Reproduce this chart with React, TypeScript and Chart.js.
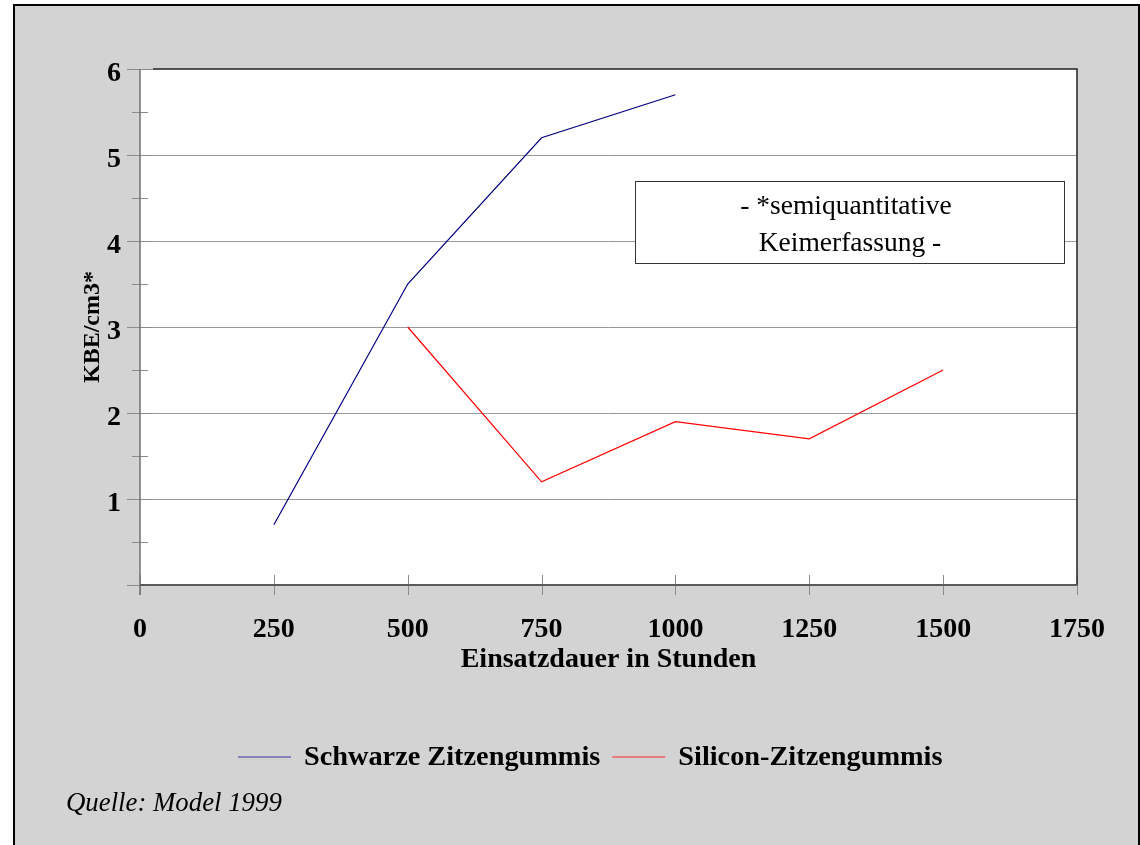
import { useEffect, useRef } from 'react';
import { Chart, registerables } from 'chart.js';

Chart.register(...registerables);

// ---- data ----
const schwarzeHours = [250, 500, 750, 1000];
const schwarzeValues = [0.7, 3.5, 5.2, 5.7];
const siliconHours = [500, 750, 1000, 1250, 1500];
const siliconValues = [3.0, 1.2, 1.9, 1.7, 2.5];
const seriesLabels = ['Schwarze Zitzengummis', 'Silicon-Zitzengummis'];
const seriesColors = ['#000080', '#ff0000'];
const legendColors = ['#6b6bb0', '#f06060'];
const xTickValues = [0, 250, 500, 750, 1000, 1250, 1500, 1750];
const xTickLabels = ['0', '250', '500', '750', '1000', '1250', '1500', '1750'];
const yTickValues = [0, 1, 2, 3, 4, 5, 6];
const yTickLabels = ['', '1', '2', '3', '4', '5', '6'];
const yMinorValues = [0.5, 1.5, 2.5, 3.5, 4.5, 5.5];
const xTitle = 'Einsatzdauer in Stunden';
const yTitle = 'KBE/cm3*';
const noteLines = ['- *semiquantitative', 'Keimerfassung -'];
const sourceText = 'Quelle: Model 1999';

const FONT = '"Liberation Serif", "Times New Roman", serif';

const framePlugin = {
  id: 'frame',
  beforeDraw(chart: any) {
    const { ctx, chartArea } = chart;
    ctx.save();
    ctx.fillStyle = '#ffffff';
    ctx.fillRect(chartArea.left, chartArea.top, chartArea.right - chartArea.left, chartArea.bottom - chartArea.top);
    ctx.restore();
  },
  afterDraw(chart: any) {
    const { ctx, chartArea, scales } = chart;
    const { left, right, top, bottom } = chartArea;
    const x = scales.x;
    const y = scales.y;
    const line = (x1: number, y1: number, x2: number, y2: number) => {
      ctx.beginPath();
      ctx.moveTo(x1, y1);
      ctx.lineTo(x2, y2);
      ctx.stroke();
    };
    ctx.save();
    // ticks
    ctx.strokeStyle = '#8c8c8c';
    ctx.lineWidth = 1;
    yTickValues.forEach((v) => {
      const py = Math.round(y.getPixelForValue(v)) + 0.5;
      line(left - 13, py, left + 13, py);
    });
    yMinorValues.forEach((v) => {
      const py = Math.round(y.getPixelForValue(v)) + 0.5;
      line(left - 8, py, left + 8, py);
    });
    xTickValues.forEach((v) => {
      const px = Math.round(x.getPixelForValue(v)) + 0.5;
      line(px, bottom - 10, px, bottom + 10);
    });
    // top & right frame
    ctx.strokeStyle = '#222222';
    ctx.lineWidth = 1.5;
    ctx.beginPath();
    ctx.moveTo(left + 13, top);
    ctx.lineTo(right, top);
    ctx.lineTo(right, bottom);
    ctx.stroke();
    // left axis
    ctx.strokeStyle = '#707070';
    ctx.lineWidth = 1.5;
    line(left, top, left, bottom + 10);
    // bottom axis
    ctx.strokeStyle = '#5a5a5a';
    ctx.lineWidth = 2;
    line(left, bottom, right, bottom);

    // note box
    ctx.fillStyle = '#ffffff';
    ctx.fillRect(635, 181, 430, 83);
    ctx.strokeStyle = '#333333';
    ctx.lineWidth = 1;
    ctx.strokeRect(635.5, 181.5, 429, 82);
    ctx.fillStyle = '#000000';
    ctx.font = `27.5px ${FONT}`;
    ctx.textAlign = 'center';
    ctx.textBaseline = 'middle';
    ctx.fillText(noteLines[0], 846, 207);
    ctx.fillText(noteLines[1], 850, 244);

    // legend
    let cx = 238;
    const ly = 758;
    ctx.font = `bold 28.3px ${FONT}`;
    ctx.textAlign = 'left';
    seriesLabels.forEach((label, i) => {
      ctx.strokeStyle = legendColors[i];
      ctx.lineWidth = 1.5;
      line(cx, ly - 1, cx + 53, ly - 1);
      cx += 53 + 13;
      ctx.fillStyle = '#000000';
      ctx.fillText(label, cx, ly);
      cx += ctx.measureText(label).width + 12;
    });

    // source
    ctx.font = `italic 26.8px ${FONT}`;
    ctx.fillText(sourceText, 66, 804);
    ctx.restore();
  },
};

export default function App() {
  const canvasRef = useRef<HTMLCanvasElement | null>(null);

  useEffect(() => {
    if (!canvasRef.current) return;
    Chart.defaults.font.family = FONT;
    const chart = new Chart(canvasRef.current, {
      type: 'line',
      data: {
        datasets: [
          {
            label: seriesLabels[0],
            data: schwarzeHours.map((h, i) => ({ x: h, y: schwarzeValues[i] })),
            borderColor: seriesColors[0],
            backgroundColor: seriesColors[0],
            borderWidth: 1.2,
            pointRadius: 0,
            tension: 0,
          },
          {
            label: seriesLabels[1],
            data: siliconHours.map((h, i) => ({ x: h, y: siliconValues[i] })),
            borderColor: seriesColors[1],
            backgroundColor: seriesColors[1],
            borderWidth: 1.2,
            pointRadius: 0,
            tension: 0,
          },
        ],
      },
      options: {
        responsive: false,
        devicePixelRatio: 1,
        animation: false,
        layout: { padding: { top: 69, right: 63, left: 0, bottom: 0 } },
        plugins: {
          legend: { display: false },
          tooltip: { enabled: false },
          title: { display: false },
        },
        scales: {
          x: {
            type: 'linear',
            min: 0,
            max: 1750,
            afterFit: (s: any) => {
              s.height = 260;
            },
            afterBuildTicks: (s: any) => {
              s.ticks = xTickValues.map((v) => ({ value: v }));
            },
            ticks: {
              autoSkip: false,
              maxRotation: 0,
              padding: 28,
              color: '#000000',
              font: { family: FONT, size: 28, weight: 'bold' },
              callback: (v: any) => {
                const i = xTickValues.indexOf(Number(v));
                return i >= 0 ? xTickLabels[i] : '';
              },
            },
            grid: { display: false, drawTicks: false },
            border: { display: false },
            title: {
              display: true,
              text: xTitle,
              color: '#000000',
              font: { family: FONT, size: 28, weight: 'bold' },
              padding: { top: 0, bottom: 168 },
            },
          },
          y: {
            type: 'linear',
            min: 0,
            max: 6,
            afterFit: (s: any) => {
              s.width = 140;
            },
            afterBuildTicks: (s: any) => {
              s.ticks = yTickValues.map((v) => ({ value: v }));
            },
            ticks: {
              autoSkip: false,
              padding: 19,
              labelOffset: 5,
              color: '#000000',
              font: { family: FONT, size: 28, weight: 'bold' },
              callback: (v: any) => {
                const i = yTickValues.indexOf(Number(v));
                return i >= 0 ? yTickLabels[i] : '';
              },
            },
            grid: {
              drawTicks: false,
              lineWidth: 1,
              color: (c: any) =>
                c.tick && (c.tick.value === 0 || c.tick.value === 6) ? 'rgba(0,0,0,0)' : '#9a9a9a',
            },
            border: { display: false },
            title: {
              display: true,
              text: yTitle,
              color: '#000000',
              font: { family: FONT, size: 24, weight: 'bold' },
              padding: { top: 78, bottom: 0 },
            },
          },
        },
      },
      plugins: [framePlugin],
    } as any);
    return () => chart.destroy();
  }, []);

  return (
    <div
      style={{
        position: 'fixed',
        left: 0,
        top: 0,
        width: 1140,
        height: 845,
        background: '#ffffff',
        overflow: 'hidden',
      }}
    >
      <div
        style={{
          position: 'absolute',
          left: 13,
          top: 4,
          width: 1127,
          height: 900,
          border: '2px solid #000000',
          background: '#d3d3d3',
          boxSizing: 'border-box',
        }}
      />
      <canvas
        ref={canvasRef}
        width={1140}
        height={845}
        style={{ position: 'absolute', left: 0, top: 0, width: 1140, height: 845 }}
      />
    </div>
  );
}
